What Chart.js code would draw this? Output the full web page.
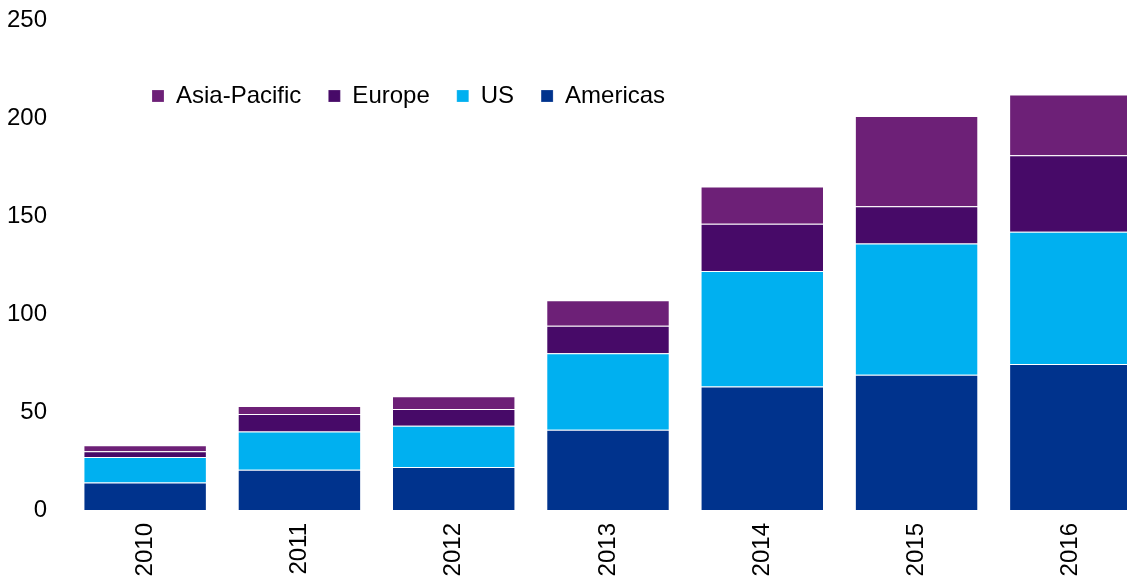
<!DOCTYPE html>
<html>
<head>
<meta charset="utf-8">
<script src="https://cdn.jsdelivr.net/npm/chart.js@4"></script>
<style>
  html, body { margin: 0; padding: 0; background: #fff; overflow: hidden; }
  #wrap { position: relative; width: 1148px; height: 580px; }
</style>
</head>
<body>
<div id="wrap"><canvas id="chart"></canvas></div>
<script>
const years = ['2010', '2011', '2012', '2013', '2014', '2015', '2016'];
const americas = [14, 20.5, 22, 41, 63, 69, 74.5];
const us = [13, 19.5, 21, 39, 59, 67, 67.5];
const europe = [3, 9, 8.5, 14, 24, 19, 39];
const asiaPacific = [3, 4, 6.5, 13, 19, 46, 31];
const yTicks = [0, 50, 100, 150, 200, 250];

const font = { family: "'Liberation Sans', Arial, sans-serif", size: 24 };

// legend sits inside the plot, one row, top left
const moveLegend = {
    id: 'moveLegend',
    beforeLayout(chart) {
        chart.legend.isHorizontal = () => true;
    },
    afterLayout(chart) {
        const l = chart.legend;
        const w = l.width, h = l.height;
        l.left = 125;
        l.top = 57;
        l.right = l.left + w;
        l.bottom = l.top + h;
    }
};

const bar = (label, data, color) => ({
    label: label,
    data: data,
    backgroundColor: color,
    borderColor: 'rgba(255,255,255,0.2)',
    borderWidth: 1
});

new Chart(document.getElementById('chart'), {
    type: 'bar',
    data: {
        labels: years,
        datasets: [
            bar('Americas', americas, '#00338D'),
            bar('US', us, '#00B0F0'),
            bar('Europe', europe, '#470A68'),
            bar('Asia-Pacific', asiaPacific, '#6D2077')
        ]
    },
    options: {
        responsive: true,
        maintainAspectRatio: false,
        animation: false,
        layout: { padding: { top: 20, left: 0, right: 0, bottom: 0 } },
        datasets: { bar: { categoryPercentage: 1, barPercentage: 0.8 } },
        plugins: {
            tooltip: { enabled: false },
            legend: {
                position: 'chartArea',
                fullSize: false,
                align: 'start',
                reverse: true,
                labels: {
                    font: font,
                    color: '#000',
                    boxWidth: 12,
                    boxHeight: 12,
                    padding: 27
                }
            }
        },
        scales: {
            x: {
                stacked: true,
                grid: { display: false, drawTicks: false },
                border: { display: false },
                ticks: {
                    font: font,
                    color: '#000',
                    minRotation: 90,
                    maxRotation: 90,
                    padding: 13
                },
                afterFit(scale) { scale.height = 70; }
            },
            y: {
                stacked: true,
                min: 0,
                max: 250,
                grid: { display: false, drawTicks: false },
                border: { display: false },
                afterBuildTicks(scale) { scale.ticks = yTicks.map(v => ({ value: v })); },
                ticks: { font: font, color: '#000', padding: 21 },
                afterFit(scale) {
                    scale.width = 68;
                    scale.paddingTop = 0;
                    scale.paddingBottom = 0;
                }
            }
        }
    },
    plugins: [moveLegend]
});
</script>
</body>
</html>
